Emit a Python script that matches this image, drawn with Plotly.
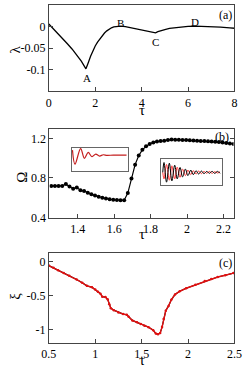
import plotly.graph_objects as go

# ---------------- data ----------------
# panel (a)
tau_a = [0, 0.2, 0.4, 0.6, 0.8, 1.0, 1.2, 1.4, 1.6, 1.65, 1.7, 1.8, 1.9, 2.0, 2.1, 2.2, 2.3, 2.4,
         2.5, 2.6, 2.7, 2.8, 2.9, 3.0, 3.1, 3.3, 3.6, 3.9, 4.2, 4.45, 4.6, 4.7, 4.85, 5.0, 5.2,
         5.4, 5.7, 6.0, 6.3, 6.6, 7.0, 7.4, 7.8, 8.0]
lam_a = [0.006, -0.005, -0.016, -0.028, -0.040, -0.052, -0.065, -0.080, -0.098, -0.092, -0.084,
         -0.069, -0.056, -0.045, -0.036, -0.028, -0.021, -0.015, -0.010, -0.006, -0.003, -0.001,
         0.0, 0.0008, 0.001, 0.0, -0.003, -0.006, -0.009, -0.012, -0.0145, -0.012, -0.009, -0.007,
         -0.0045, -0.003, -0.001, 0.0005, 0.001, 0.0008, -0.0003, -0.0015, -0.003, -0.004]
point_labels = ["A", "B", "C", "D"]
point_tau = [1.63, 3.1, 4.6, 6.29]
point_lam = [-0.119, 0.0077, -0.036, 0.011]

# panel (b)
tau_b = [1.255, 1.275, 1.295, 1.315, 1.335, 1.355, 1.375, 1.395, 1.415, 1.435, 1.455, 1.475,
         1.495, 1.515, 1.535, 1.555, 1.575, 1.595, 1.615, 1.635, 1.655, 1.675, 1.695, 1.715,
         1.735, 1.755, 1.775, 1.795, 1.815, 1.835, 1.855, 1.875, 1.895, 1.915, 1.935, 1.955,
         1.975, 1.995, 2.015, 2.035, 2.055, 2.075, 2.095, 2.115, 2.135, 2.155, 2.175, 2.195,
         2.215, 2.235, 2.255]
omega_b = [0.72, 0.72, 0.72, 0.72, 0.738, 0.715, 0.69, 0.705, 0.675, 0.668, 0.65, 0.635,
           0.622, 0.61, 0.60, 0.592, 0.585, 0.58, 0.577, 0.575, 0.575, 0.647, 0.796, 0.935,
           1.028, 1.085, 1.12, 1.145, 1.16, 1.168, 1.173, 1.176, 1.185, 1.19, 1.188, 1.186,
           1.184, 1.183, 1.181, 1.178, 1.176, 1.175, 1.173, 1.172, 1.17, 1.167, 1.163, 1.158,
           1.153, 1.148, 1.145]

# inset 1 of (b)
ins1_t = [2, 10, 28, 40, 52, 64, 76, 88, 100, 112, 132, 174]
ins1_y = [15, -28, 20, -10, 8, -5, 3, -3, 1, -1, 0, 0]

# inset 2 of (b)
ins2_t = [4, 8, 16, 25, 33, 42, 50, 59, 67, 76, 84, 93, 101, 110, 118, 127, 135, 144, 152,
          161, 169, 178, 186]
ins2_black = [0, 30, -30, 28, -26, 22, -20, 15, -14, 10, -10, 7, -7, 5, -5, 4, -4, 3, -3, 3,
              -3, 3, -3]
ins2_red = [0, -20, 24, -24, 20, -20, 16, -15, 10, -10, 7, -7, 5, -5, 4, -4, 3, -3, 3, -3,
            2, -2, 2]

# panel (c)
tau_c = [0.50, 0.55, 0.60, 0.66, 0.72, 0.80, 0.86, 0.91, 0.965, 1.00, 1.03, 1.056, 1.076,
         1.11, 1.134, 1.151, 1.168, 1.20, 1.25, 1.30, 1.34, 1.36, 1.40, 1.45, 1.49, 1.53,
         1.575, 1.625, 1.653, 1.676, 1.70, 1.72, 1.737, 1.76, 1.79, 1.82, 1.86, 1.91, 1.98,
         2.08, 2.18, 2.25, 2.32, 2.40, 2.49, 2.50]
xi_c = [-0.058, -0.09, -0.125, -0.165, -0.205, -0.262, -0.31, -0.355, -0.375, -0.408, -0.44,
        -0.47, -0.514, -0.519, -0.553, -0.625, -0.683, -0.711, -0.745, -0.769, -0.779, -0.808,
        -0.862, -0.89, -0.913, -0.94, -0.961, -1.005, -1.055, -1.065, -1.045, -0.96, -0.84,
        -0.72, -0.649, -0.56, -0.48, -0.435, -0.39, -0.34, -0.285, -0.255, -0.225, -0.2,
        -0.168, -0.165]

# ---------------- figure ----------------
FONT = "Liberation Serif"
AX = "#444444"
W, H = 249, 375

fig = go.Figure()

fig.add_trace(go.Scatter(x=tau_a, y=lam_a, mode="lines", line=dict(color="black", width=1.3),
                         xaxis="x", yaxis="y", showlegend=False))
fig.add_trace(go.Scatter(x=tau_b, y=omega_b, mode="lines+markers",
                         line=dict(color="black", width=1.2),
                         marker=dict(color="black", size=4),
                         xaxis="x2", yaxis="y2", showlegend=False))
fig.add_trace(go.Scatter(x=ins1_t, y=ins1_y, mode="lines", line=dict(color="#c41e1e", width=1.2, shape="spline"),
                         xaxis="x4", yaxis="y4", showlegend=False))
fig.add_trace(go.Scatter(x=ins2_t, y=ins2_red, mode="lines", line=dict(color="#ff3b3b", width=1, shape="spline"),
                         xaxis="x5", yaxis="y5", showlegend=False))
fig.add_trace(go.Scatter(x=ins2_t, y=ins2_black, mode="lines", line=dict(color="black", width=1, shape="spline"),
                         xaxis="x5", yaxis="y5", showlegend=False))
fig.add_trace(go.Scatter(x=tau_c, y=xi_c, mode="lines", line=dict(color="black", width=1.2),
                         xaxis="x3", yaxis="y3", showlegend=False))
fig.add_trace(go.Scatter(x=tau_c, y=xi_c, mode="lines+markers",
                         line=dict(color="#e01010", width=1.4),
                         marker=dict(color="#e01010", size=2.5),
                         xaxis="x3", yaxis="y3", showlegend=False))

def xax(dom, rng, vals, txt, anchor, mirror=True):
    return dict(domain=dom, range=rng, tickvals=vals, ticktext=txt, anchor=anchor,
                showline=True, linecolor=AX, linewidth=1, mirror=mirror, ticks="inside",
                ticklen=4, tickcolor=AX, showgrid=False, zeroline=False,
                tickfont=dict(family=FONT, size=12, color="black"))

def px2x(p):
    return p / W

def px2y(p):
    return 1 - p / H

layout = dict(
    width=W, height=H, margin=dict(l=0, r=0, t=0, b=0),
    paper_bgcolor="white", plot_bgcolor="white", hovermode=False,
    xaxis=xax([px2x(44.3), px2x(241)], [0, 8.0001], [0, 2, 4, 6, 8], ["0", "2", "4", "6", "8"], "y"),
    yaxis=xax([px2y(93), px2y(5)], [-0.15, 0.0501], [-0.1, -0.05, 0, 0.05],
              ["-0.1", "-0.05", "0", "0.05"], "x"),
    xaxis2=xax([px2x(45), px2x(240)], [1.245, 2.255], [1.4, 1.6, 1.8, 2.0, 2.2],
               ["1.4", "1.6", "1.8", "2", "2.2"], "y2"),
    yaxis2=xax([px2y(221.7), px2y(131)], [0.3999, 1.3], [0.4, 0.8, 1.2], ["0.4", "0.8", "1.2"],
               "x2", mirror="ticks"),
    xaxis3=xax([px2x(44.3), px2x(241)], [0.4999, 2.5001], [0.5, 1, 1.5, 2, 2.5],
               ["0.5", "1", "1.5", "2", "2.5"], "y3"),
    yaxis3=xax([px2y(349.3), px2y(258.3)], [-1.19, 0.12], [-1, -0.5, 0], ["-1", "-0.5", "0"], "x3"),
    xaxis4=dict(domain=[px2x(68.7), px2x(128)], range=[0, 178], anchor="y4", showline=True,
                linecolor="#666", linewidth=1.3, mirror=True, showticklabels=False, ticks="",
                showgrid=False, zeroline=False),
    yaxis4=dict(domain=[px2y(174), px2y(150.7)], range=[-48, 22], anchor="x4", showline=True,
                linecolor="#666", linewidth=1.3, mirror=True, showticklabels=False, ticks="",
                showgrid=False, zeroline=False),
    xaxis5=dict(domain=[px2x(163.7), px2x(227.7)], range=[0, 192], anchor="y5", showline=True,
                linecolor="#666", linewidth=1.3, mirror=True, showticklabels=False, ticks="",
                showgrid=False, zeroline=False),
    yaxis5=dict(domain=[px2y(188.3), px2y(162.3)], range=[-38, 40], anchor="x5", showline=True,
                linecolor="#666", linewidth=1.3, mirror=True, showticklabels=False, ticks="",
                showgrid=False, zeroline=False),
)
fig.update_layout(**layout)

ann = []
for lab, t, l in zip(point_labels, point_tau, point_lam):
    ann.append(dict(x=t, y=l, xref="x", yref="y", text=lab, showarrow=False,
                    xanchor="center", yanchor="middle",
                    font=dict(family=FONT, size=11, color="black")))

def pann(text, x, y, size, angle=0):
    return dict(x=px2x(x), y=px2y(y), xref="paper", yref="paper", text=text, showarrow=False,
                xanchor="center", yanchor="middle", textangle=angle,
                font=dict(family=FONT, size=size, color="black"))

ann += [
    pann("(a)", 232, 15, 12), pann("(b)", 228, 140, 12), pann("(c)", 231.5, 268, 12),
    pann("τ", 143, 112.5, 15), pann("τ", 143, 238.5, 15), pann("τ", 143, 366.5, 15),
    pann("λ", 9, 50, 15, -90), pann("Ω", 15, 181, 15, -90), pann("ξ", 9, 302, 15, -90),
]
fig.update_layout(annotations=ann)

fig.write_html("out.html", config={"displayModeBar": False, "staticPlot": True},
               post_script="document.body.style.margin='0';document.body.style.overflow='hidden';")
